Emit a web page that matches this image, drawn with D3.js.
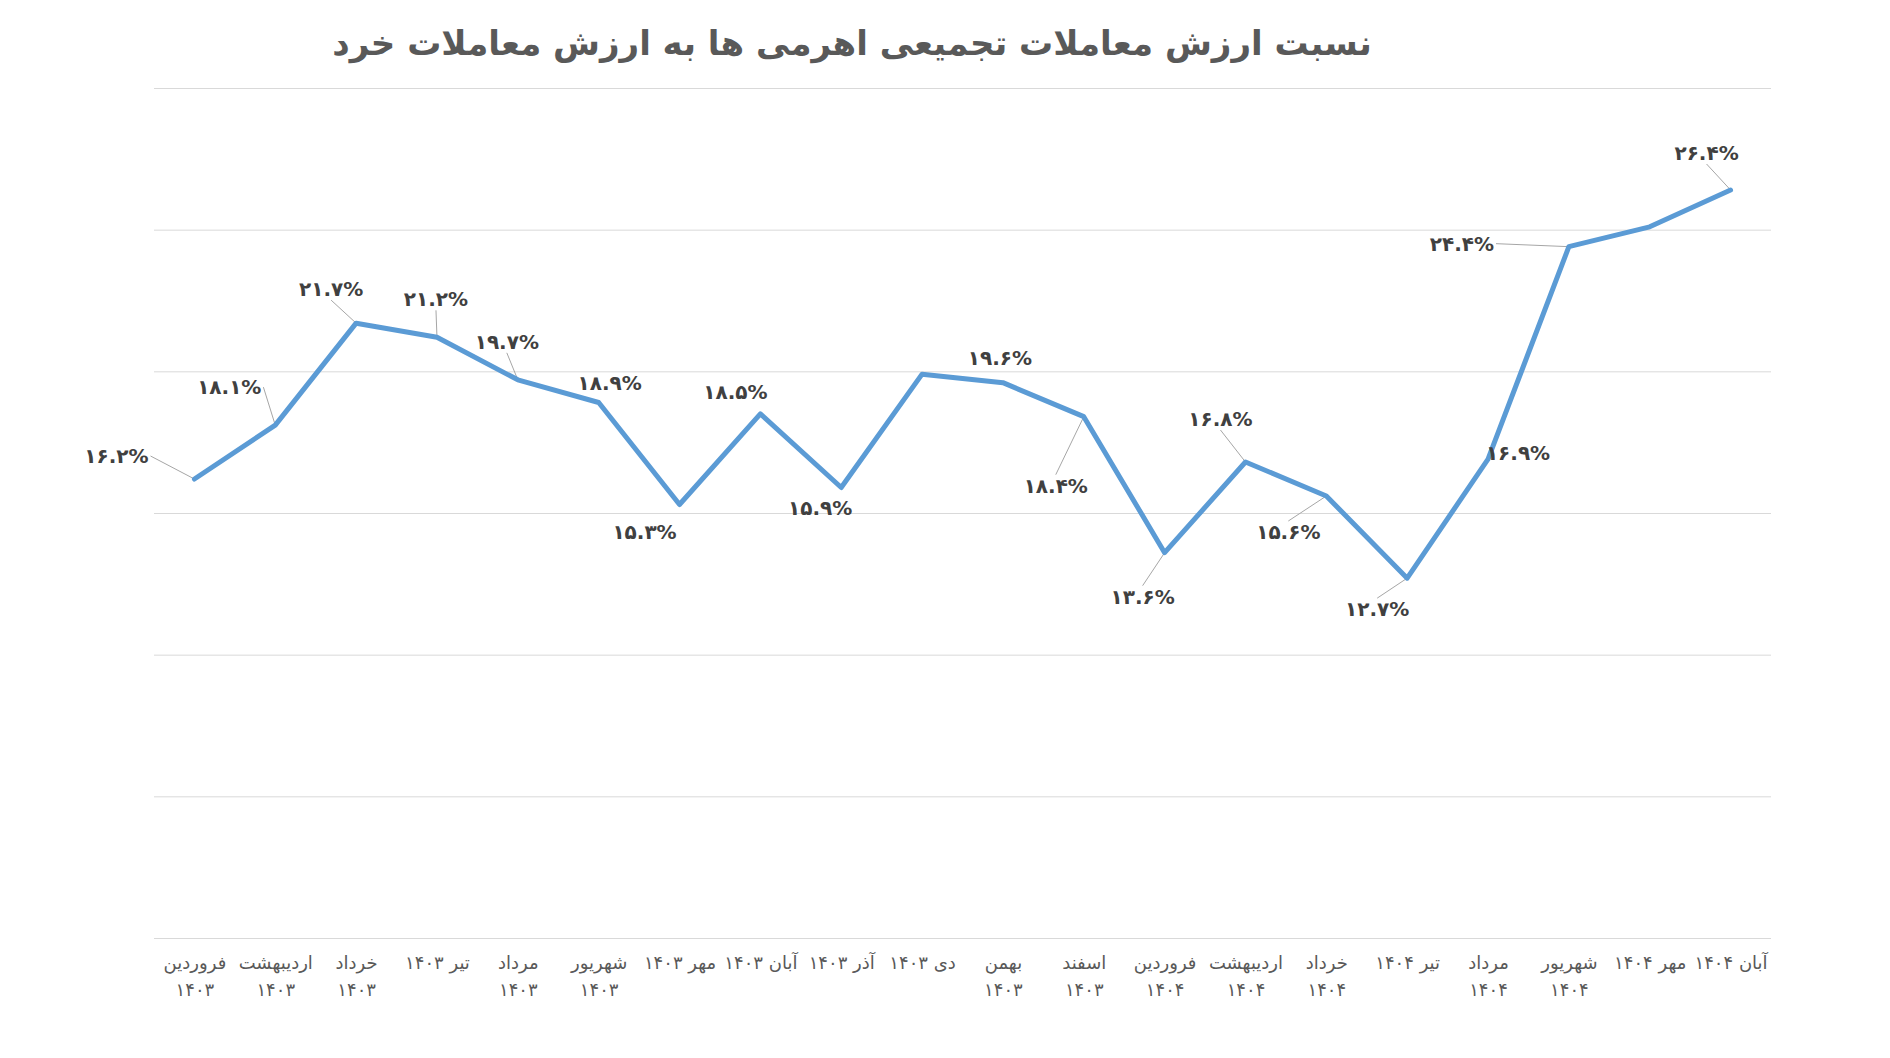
<!DOCTYPE html>
<html>
<head>
<meta charset="utf-8">
<script src="https://cdn.jsdelivr.net/npm/d3@7"></script>
<style>
  body { margin: 0; background: #ffffff; }
  svg { display: block; }
</style>
</head>
<body>
<svg id="chart"></svg>
<script>
var title = 'نسبت ارزش معاملات تجمیعی اهرمی ها به ارزش معاملات خرد';

var categories = [
  'فروردین\n۱۴۰۳', 'اردیبهشت\n۱۴۰۳', 'خرداد\n۱۴۰۳', 'تیر ۱۴۰۳', 'مرداد\n۱۴۰۳',
  'شهریور\n۱۴۰۳', 'مهر ۱۴۰۳', 'آبان ۱۴۰۳', 'آذر ۱۴۰۳', 'دی ۱۴۰۳',
  'بهمن\n۱۴۰۳', 'اسفند\n۱۴۰۳', 'فروردین\n۱۴۰۴', 'اردیبهشت\n۱۴۰۴', 'خرداد\n۱۴۰۴',
  'تیر ۱۴۰۴', 'مرداد\n۱۴۰۴', 'شهریور\n۱۴۰۴', 'مهر ۱۴۰۴', 'آبان ۱۴۰۴'
];

// percent
var values = [16.2, 18.1, 21.7, 21.2, 19.7, 18.9, 15.3, 18.5, 15.9, 19.9,
              19.6, 18.4, 13.6, 16.8, 15.6, 12.7, 16.9, 24.4, 25.1, 26.4];

// which points carry a data label
var labelShown = [1, 1, 1, 1, 1, 1, 1, 1, 1, 0,
                  1, 1, 1, 1, 1, 1, 1, 1, 0, 1];

// label centre offsets from the point, px (placed by hand like in excel)
var labelOffsets = [
  [-78, -23], [-46, -38], [-25, -34], [-1, -38], [-11, -38],
  [11, -20], [-35, 27], [-25, -22], [-21, 20], [0, 0],
  [-3, -25], [-28, 69], [-22, 44], [-25, -43], [-38, 36],
  [-30, 31], [30, -6], [-107, -3], [0, 0], [-24, -37]
];

var yTicks = [0, 5, 10, 15, 20, 25, 30];

(function () {
  var W = 1890, H = 1058;
  var mLeft = 154, mRight = 1771, mTop = 88, mBottom = 938;

  function fa(s) {
    return String(s).replace(/[0-9]/g, function (d) { return '۰۱۲۳۴۵۶۷۸۹'[+d]; });
  }

  var svg = d3.select('#chart').attr('width', W).attr('height', H);

  var x = d3.scalePoint().domain(d3.range(categories.length)).range([mLeft, mRight]).padding(0.5);
  var y = d3.scaleLinear().domain([0, 30]).range([mBottom, mTop]);

  // gridlines
  var grid = svg.append('g')
    .attr('transform', 'translate(' + mLeft + ',0)')
    .call(d3.axisLeft(y).tickValues(yTicks).tickSize(-(mRight - mLeft)).tickFormat(''));
  grid.select('.domain').remove();
  grid.selectAll('line').attr('stroke', '#d9d9d9').attr('stroke-width', 1);

  // x axis labels
  var xAxis = svg.append('g')
    .attr('transform', 'translate(0,' + mBottom + ')')
    .call(d3.axisBottom(x).tickSize(0).tickFormat(''));
  xAxis.select('.domain').remove();
  xAxis.selectAll('.tick').each(function (d) {
    var lines = categories[d].split('\n');
    var t = d3.select(this).append('text')
      .attr('fill', '#595959')
      .attr('font-family', 'DejaVu Sans, sans-serif')
      .attr('font-size', '18px')
      .attr('direction', 'rtl')
      .attr('text-anchor', 'middle');
    lines.forEach(function (ln, i) {
      t.append('tspan').attr('x', 0).attr('y', 31 + i * 27).text(ln);
    });
  });

  // line
  var line = d3.line()
    .x(function (d, i) { return x(i); })
    .y(function (d) { return y(d); });

  svg.append('path')
    .datum(values)
    .attr('d', line)
    .attr('fill', 'none')
    .attr('stroke', '#5b9bd5')
    .attr('stroke-width', 5)
    .attr('stroke-linejoin', 'round')
    .attr('stroke-linecap', 'round');

  // data labels + leader lines
  var leaders = svg.insert('g', 'path');
  var labels = svg.append('g');
  values.forEach(function (v, i) {
    if (!labelShown[i]) return;
    var px = x(i), py = y(v);
    var lx = px + labelOffsets[i][0], ly = py + labelOffsets[i][1];
    var t = labels.append('text')
      .attr('x', lx).attr('y', ly)
      .attr('dy', '0.35em')
      .attr('text-anchor', 'middle')
      .attr('direction', 'ltr')
      .attr('font-family', 'DejaVu Sans, sans-serif')
      .attr('font-weight', 'bold')
      .attr('font-size', '20px')
      .attr('fill', '#404040')
      .text(fa(v.toFixed(1)) + '%');
    var hw = t.node().getComputedTextLength() / 2 + 2, hh = 11;
    // leader starts at the middle of the label side facing the point
    var ex, ey, dx = px - lx;
    if (Math.abs(dx) > 40) { ex = lx + (dx > 0 ? hw : -hw); ey = ly; }
    else { ex = lx; ey = py < ly ? ly - hh : ly + hh; }
    var inside = Math.abs(dx) <= hw + 2 && Math.abs(py - ly) <= hh + 16;
    if (!inside || Math.abs(dx) > 40) {
      leaders.append('line')
        .attr('x1', ex).attr('y1', ey).attr('x2', px).attr('y2', py)
        .attr('stroke', '#a6a6a6').attr('stroke-width', 1);
    }
  });

  // title
  var tt = svg.append('text')
    .attr('x', 852).attr('y', 43)
    .attr('dy', '0.35em')
    .attr('text-anchor', 'middle')
    .attr('direction', 'rtl')
    .attr('font-family', 'DejaVu Sans, sans-serif')
    .attr('font-weight', 'bold')
    .attr('font-size', '34px')
    .attr('fill', '#595959')
    .text(title);
  var tw = tt.node().getComputedTextLength();
  if (tw > 1067) tt.attr('font-size', (34 * 1067 / tw).toFixed(1) + 'px');
})();
</script>
</body>
</html>
